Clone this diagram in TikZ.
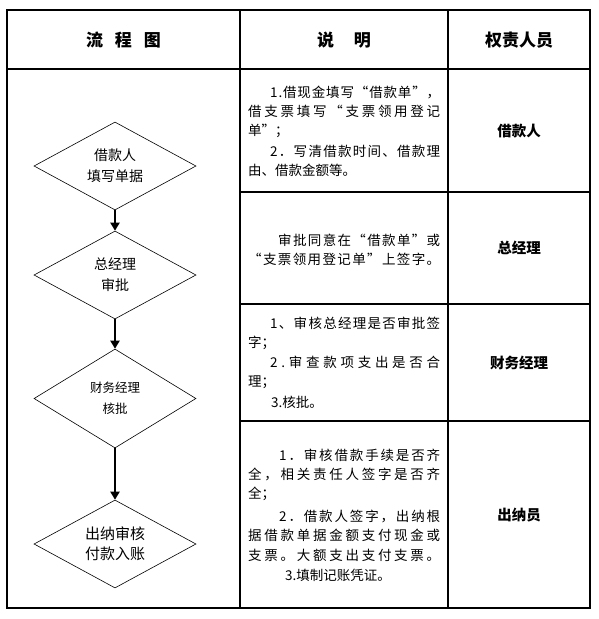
\documentclass[tikz,border=0pt]{standalone}
\usepackage{fontspec}
\setmainfont{Noto Sans CJK SC}
\usetikzlibrary{shapes.geometric,arrows.meta}
\def\SpFirst#1{#1\SpRest}
\def\SpRest#1{\ifx#1\relax\else\hfil#1\expandafter\SpRest\fi}
\newcommand\SpreadLine[2]{\hbox to #1{\SpFirst#2\relax}}
\tikzset{
  frame/.style={line width=1.1pt, black},
  flowbox/.style={draw, shape=diamond, line width=0.6pt, inner sep=0pt, align=center,
    minimum width=162pt, minimum height=88pt, aspect=1.84,
    font=\fontsize{14}{21}\selectfont},
  flowarrow/.style={line width=2.4pt, -{Triangle[length=8pt,width=9pt]}},
  headtext/.style={font=\bfseries\fontsize{17}{17}\selectfont, inner sep=0pt},
  desc/.style={anchor=west, inner sep=0pt, font=\fontsize{13.5}{13.5}\selectfont},
  role/.style={inner sep=0pt, font=\bfseries\fontsize{14.5}{14.5}\selectfont},
}
\begin{document}
\begin{tikzpicture}[x=1pt,y=-1pt]
\useasboundingbox (0,0) rectangle (599,619);
% table frame
\coordinate (TL) at (7,10);
\coordinate (BR) at (590,608);
\draw[frame] (TL) rectangle (BR);
\draw[frame] (7,69) -- (590,69);
\draw[frame] (240,10) -- (240,608);
\draw[frame] (448,10) -- (448,608);
\draw[frame] (240,192) -- (590,192);
\draw[frame] (240,304) -- (590,304);
\draw[frame] (240,421) -- (590,421);
% header
\node[headtext] (h1) at (123.5,40) {流\hspace{12pt}程\hspace{12pt}图};
\node[headtext] (h2) at (344,40) {说\hspace{20pt}明};
\node[headtext] (h3) at (519,40) {权责人员};
% flowchart
\node[flowbox] (d1) at (115,166) {借款人\\填写单据};
\node[flowbox] (d2) at (115,275) {总经理\\审批};
\node[flowbox, minimum height=99pt, aspect=1.64, font=\fontsize{12.5}{21}\selectfont] (d3) at (115,398.5) {财务经理\\核批};
\node[flowbox, font=\fontsize{15}{20}\selectfont] (d4) at (115,544) {出纳审核\\付款入账};
\draw[flowarrow] (d1.south) -- (d2.north);
\draw[flowarrow] (d2.south) -- (d3.north);
\draw[flowarrow] (d3.south) -- (d4.north);
% descriptions row 1
\node[desc] (r1a) at (270,92) {\SpreadLine{170pt}{1.借现金填写“借款单”，}};
\node[desc] (r1b) at (248,111) {\SpreadLine{192pt}{借支票填写“支票领用登记}};
\node[desc] (r1c) at (248,131) {单”；};
\node[desc] (r1d) at (270,151) {\SpreadLine{170pt}{2．写清借款时间、借款理}};
\node[desc] (r1e) at (248,170) {由、借款金额等。};
% row 2
\node[desc] (r2a) at (278,240) {\SpreadLine{162pt}{审批同意在“借款单”或}};
\node[desc] (r2b) at (248,259) {\SpreadLine{192pt}{“支票领用登记单”上签字。}};
% row 3
\node[desc] (r3a) at (270,323) {\SpreadLine{170pt}{1、审核总经理是否审批签}};
\node[desc] (r3b) at (248,343) {字；};
\node[desc] (r3c) at (270,362) {\SpreadLine{170pt}{2.审查款项支出是否合}};
\node[desc] (r3d) at (248,382) {理；};
\node[desc] (r3e) at (271,402) {3.核批。};
% row 4
\node[desc] (r4a) at (279,455) {\SpreadLine{161pt}{1．审核借款手续是否齐}};
\node[desc] (r4b) at (248,474) {\SpreadLine{192pt}{全，相关责任人签字是否齐}};
\node[desc] (r4c) at (248,494) {全；};
\node[desc] (r4d) at (279,516) {\SpreadLine{161pt}{2．借款人签字，出纳根}};
\node[desc] (r4e) at (248,535) {\SpreadLine{192pt}{据借款单据金额支付现金或}};
\node[desc] (r4f) at (248,555) {\SpreadLine{192pt}{支票。大额支出支付支票。}};
\node[desc] (r4g) at (285,575) {3.填制记账凭证。};
% roles
\node[role] (p1) at (519,131) {借款人};
\node[role] (p2) at (519,248) {总经理};
\node[role] (p3) at (519,363) {财务经理};
\node[role] (p4) at (519,515) {出纳员};
\end{tikzpicture}
\end{document}
